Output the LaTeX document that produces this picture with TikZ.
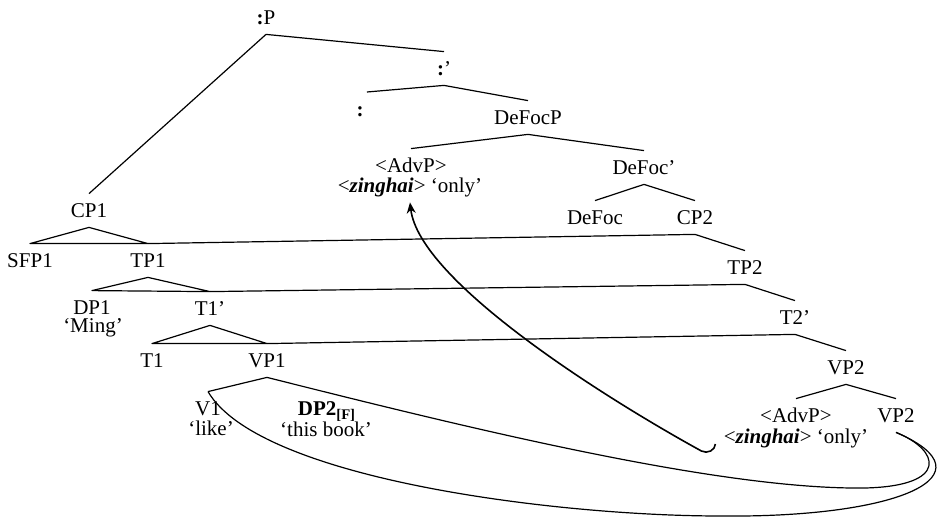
\documentclass[tikz,border=0pt]{standalone}
\usepackage{fontspec}
\setmainfont{Liberation Serif}
\usepackage{tikz}
\usetikzlibrary{arrows.meta,positioning}
\tikzset{
    cat/.style={
        anchor=base,
        inner sep=0pt,
        text height=12pt,
        text depth=4.5pt,
        font=\fontsize{10.5}{12}\selectfont
    },
    leaf/.style={
        cat,
        text depth=0pt
    },
    gloss/.style={
        anchor=base,
        inner sep=0pt,
        text height=6.5pt,
        text depth=4.5pt,
        font=\fontsize{10.5}{12}\selectfont
    },
    branch/.style={
        line width=0.6pt,
        line join=round
    },
    movearrow/.style={
        -{Stealth[length=5.5pt,width=4.5pt]},
        line width=0.8pt
    }
}

\begin{document}
\begin{tikzpicture}[x=0.5pt,y=-0.5pt]
    \useasboundingbox (0,0) rectangle (939,518);

    % Upper spine
    \node[cat] (colonP) at (266,25) {\textbf{:}P};
    \node[cat] (colonbar) at (444,76) {\textbf{:}’};
    \node[cat] (colon) at (360,117) {\textbf{:}};
    \node[cat] (defocp) at (528,125) {DeFocP};
    \node[leaf] (advA) at (411,173) {<AdvP>};
    \node[gloss] (zinA) at (410,193) {<\textbf{\textit{zinghai}}> ‘only’};
    \node[cat] (defocbar) at (644,175) {DeFoc’};
    \node[cat] (defoc) at (595,225) {DeFoc};
    \node[cat] (cptwo) at (695,225) {CP2};
    \node[cat] (tptwo) at (745,275) {TP2};
    \node[cat] (ttwobar) at (795,325) {T2’};
    \node[cat] (vptwo) at (846,375) {VP2};
    \node[leaf] (advB) at (796,423) {<AdvP>};
    \node[gloss] (zinB) at (796,444) {<\textbf{\textit{zinghai}}> ‘only’};
    \node[cat] (vpbot) at (896,423) {VP2};

    % Left side
    \node[cat] (cpone) at (89,218) {CP1};
    \node[cat] (sfpone) at (30,268) {SFP1};
    \node[cat] (tpone) at (148,268) {TP1};
    \node[leaf] (dpone) at (92,315) {DP1};
    \node[gloss] (ming) at (93,333) {‘Ming’};
    \node[cat] (tonebar) at (210,316) {T1’};
    \node[cat] (tone) at (152,368) {T1};
    \node[cat] (vpone) at (267,368) {VP1};
    \node[leaf] (vone) at (208,416) {V1};
    \node[gloss] (like) at (211,436) {‘like’};
    \node[leaf] (dptwo) at (327,416) {\textbf{DP2}\textsubscript{\textbf{[F]}}};
    \node[gloss] (book) at (326,437) {‘this book’};

    % Branches
    \draw[branch] (cpone.north) -- (colonP.south) -- (colonbar.north);
    \draw[branch, shorten >=3.5pt] (colonbar.south) -- (colon.north);
    \draw[branch] (colonbar.south) -- (defocp.north);
    \draw[branch] (advA.north) -- (defocp.south) -- (defocbar.north);
    \draw[branch] (defoc.north) -- (defocbar.south) -- (cptwo.north);
    \draw[branch] (cptwo.south) -- (tptwo.north);
    \draw[branch] (tptwo.south) -- (ttwobar.north);
    \draw[branch] (ttwobar.south) -- (vptwo.north);
    \draw[branch] (advB.north) -- (vptwo.south) -- (vpbot.north);

    % Triangles and shared lines
    \draw[branch] (cpone.south) -- (sfpone.north) -- (tpone.north) -- cycle;
    \draw[branch] (tpone.north) -- (cptwo.south);
    \draw[branch] (tpone.south) -- (dpone.north) -- (tonebar.north) -- cycle;
    \draw[branch] (tonebar.north) -- (tptwo.south);
    \draw[branch] (tonebar.south) -- (tone.north) -- (vpone.north) -- cycle;
    \draw[branch] (vpone.north) -- (ttwobar.south);
    \draw[branch] (vpone.south) -- (vone.north);

    % Curves to the lower VP2
    \draw[branch] (vpone.south) .. controls (468,428) and (720,490) .. (865,488)
        .. controls (950,486) and (940,450) .. (vpbot.south);
    \draw[branch] (vone.north) .. controls (260,480) and (560,516) .. (720,516)
        .. controls (900,518) and (995,475) .. (vpbot.south);

    % Movement
    \draw[movearrow] ([xshift=-4pt]zinB.base west) .. controls +(0,6) and +(6,3.3) .. ++(-14,7)
        .. controls +(-100,-55) and +(9,78) .. (zinA.south);
\end{tikzpicture}
\end{document}
